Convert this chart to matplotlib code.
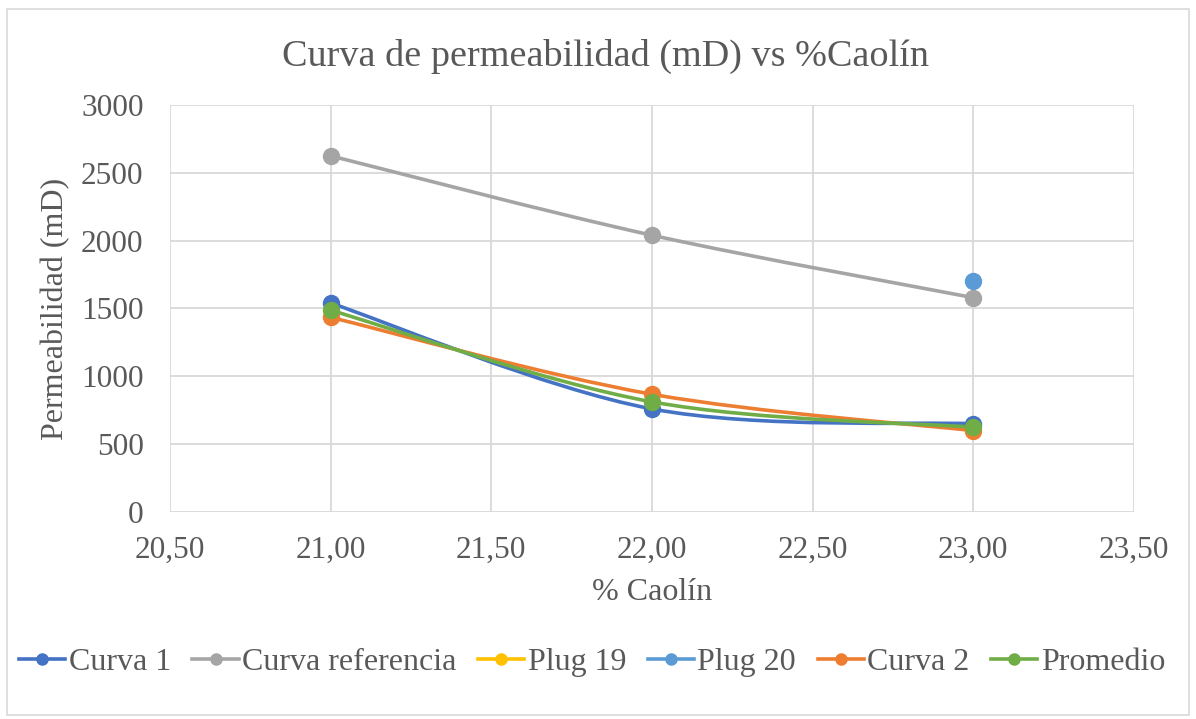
import numpy as np
import matplotlib.pyplot as plt
from matplotlib.path import Path
from matplotlib.patches import PathPatch, Rectangle
from matplotlib.lines import Line2D
from matplotlib.ticker import FuncFormatter

plt.rcParams['font.family'] = ['Liberation Serif', 'DejaVu Serif']

caolin = [21.0, 22.0, 23.0]
curva1 = [1540, 760, 650]
curva_ref = [2625, 2040, 1580]
curva2 = [1435, 868, 600]
promedio = [1487, 812, 625]
plug20_x = [23.0]
plug20_y = [1705]
plug19_x = []
plug19_y = []

TXT = '#595959'
GRID = '#D9D9D9'


def smooth_path(xs, ys):
    # Bezier segments through the points, same idea as a spreadsheet "smoothed line"
    pts = np.column_stack([xs, ys]).astype(float)
    n = len(pts)
    verts = [pts[0]]
    codes = [Path.MOVETO]
    for i in range(n - 1):
        p0 = pts[i - 1] if i > 0 else pts[i]
        p1 = pts[i]
        p2 = pts[i + 1]
        p3 = pts[i + 2] if i + 2 < n else pts[i + 1]
        c1 = p1 + (p2 - p0) / 6.0
        c2 = p2 - (p3 - p1) / 6.0
        verts += [c1, c2, p2]
        codes += [Path.CURVE4] * 3
    return Path(verts, codes)


fig = plt.figure(figsize=(11.96, 7.19), dpi=100)
fig.patches.append(Rectangle((0.006, 0.006), 0.988, 0.982, transform=fig.transFigure,
                             fill=False, edgecolor=GRID, linewidth=1.2))
ax = fig.add_axes([0.1421, 0.2879, 0.8059, 0.5661])

series = [
    ('Curva 1', caolin, curva1, '#4472C4'),
    ('Curva referencia', caolin, curva_ref, '#A5A5A5'),
    ('Plug 19', plug19_x, plug19_y, '#FFC000'),
    ('Plug 20', plug20_x, plug20_y, '#5B9BD5'),
    ('Curva 2', caolin, curva2, '#ED7D31'),
    ('Promedio', caolin, promedio, '#70AD47'),
]

handles = []
for name, xs, ys, col in series:
    if len(xs) > 1:
        ax.add_patch(PathPatch(smooth_path(xs, ys), facecolor='none', edgecolor=col,
                               linewidth=2.6, capstyle='round', zorder=3))
    if len(xs) > 0:
        ax.plot(xs, ys, linestyle='none', marker='o', markersize=11.5,
                color=col, zorder=4)
    handles.append(Line2D([], [], color=col, linewidth=2.6, marker='o', markersize=8))

ax.set_xlim(20.5, 23.5)
ax.set_ylim(0, 3000)
ax.set_xticks(np.arange(20.5, 23.51, 0.5))
ax.set_yticks(np.arange(0, 3001, 500))
ax.xaxis.set_major_formatter(FuncFormatter(lambda v, p: f'{v:.2f}'.replace('.', ',')))
ax.grid(True, color=GRID, linewidth=1.3)
ax.set_axisbelow(True)
for s in ax.spines.values():
    s.set_visible(False)
ax.tick_params(length=0, labelsize=22.5, labelcolor=TXT)
ax.tick_params(axis='x', pad=17)
ax.tick_params(axis='y', pad=19)

ax.set_xlabel('% Caolín', fontsize=23, color=TXT, va='center')
ax.xaxis.set_label_coords(0.5, -0.199)
ax.set_ylabel('Permeabilidad (mD)', fontsize=23, color=TXT, va='center')
ax.yaxis.set_label_coords(-0.119, 0.5)
fig.text(0.506, 0.922, 'Curva de permeabilidad (mD) vs %Caolín', ha='center', va='center',
         fontsize=27.5, color=TXT)

fig.legend(handles, [s[0] for s in series], loc='center', bbox_to_anchor=(0.495, 0.079),
           ncol=6, frameon=False, fontsize=23, labelcolor=TXT, handlelength=1.45,
           handletextpad=0.1, columnspacing=0.68)

fig.savefig('out.png', dpi=100)
